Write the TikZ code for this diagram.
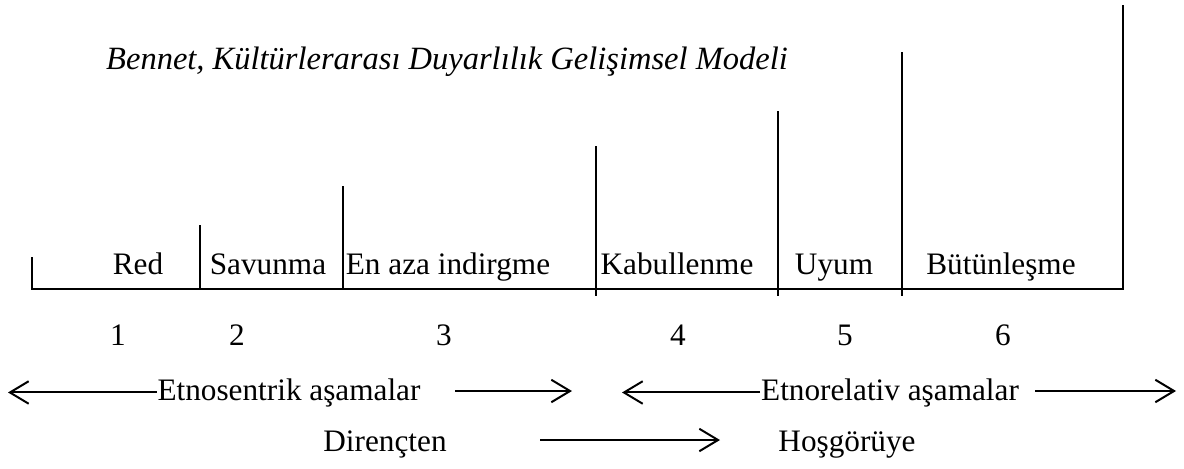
\documentclass[12pt,tikz,border=0pt]{standalone}
\usepackage{fontspec}
\setmainfont{Liberation Serif}
\usetikzlibrary{arrows.meta}
\tikzset{
  stage/.style={inner sep=0pt, anchor=base, font=\fontsize{12.5pt}{15pt}\selectfont},
  barb/.style={-{Straight Barb[length=7.5pt,width=9pt]}},
}

\begin{document}
\begin{tikzpicture}[x=0.4pt,y=-0.4pt,line width=0.8pt]
  \useasboundingbox (0,0) rectangle (1184,468);
  \node[stage, font=\fontsize{13pt}{15pt}\selectfont\itshape] (title) at (447,69) {Bennet, Kültürlerarası Duyarlılık Gelişimsel Modeli};
  % the steps
  \draw (32,257) -- (32,289) -- (1123,289) -- (1123,5)
    (200,225) -- (200,289)
    (343,186) -- (343,289)
    (596,146) -- (596,296)
    (778,111) -- (778,296)
    (902,52) -- (902,296);
  % stage names
  \node[stage] (red)  at (138,274) {Red};
  \node[stage] (sav)  at (268,274) {Savunma};
  \node[stage] (aza)  at (448,274) {En aza indirgme};
  \node[stage] (kab)  at (677,274) {Kabullenme};
  \node[stage] (uyum) at (834,274) {Uyum};
  \node[stage] (but)  at (1001,274) {Bütünleşme};
  % numbers
  \node[stage] (n1) at (118,345) {1};
  \node[stage] (n2) at (237,345) {2};
  \node[stage] (n3) at (444,345) {3};
  \node[stage] (n4) at (678,345) {4};
  \node[stage] (n5) at (845,345) {5};
  \node[stage] (n6) at (1003,345) {6};
  % the two groups
  \node[stage] (etnos) at (289,400) {Etnosentrik aşamalar};
  \node[stage] (etnor) at (890,400) {Etnorelativ aşamalar};
  \coordinate (s0) at (8,391);
  \coordinate (s1) at (455,391);
  \coordinate (s2) at (572,391);
  \coordinate (r0) at (622,391);
  \coordinate (r1) at (1035,391);
  \coordinate (r2) at (1176,391);
  \draw[barb] (etnos.west) -- (etnos.west -| s0);
  \draw[barb] (s1) -- (s2);
  \draw[barb] (etnor.west) -- (etnor.west -| r0);
  \draw[barb] (r1) -- (r2);
  % from resistance to tolerance
  \node[stage] (diren) at (385,451) {Dirençten};
  \node[stage] (hosg)  at (847,451) {Hoşgörüye};
  \coordinate (d1) at (540,440);
  \coordinate (d2) at (720,440);
  \draw[barb] (d1) -- (d2);
\end{tikzpicture}
\end{document}
